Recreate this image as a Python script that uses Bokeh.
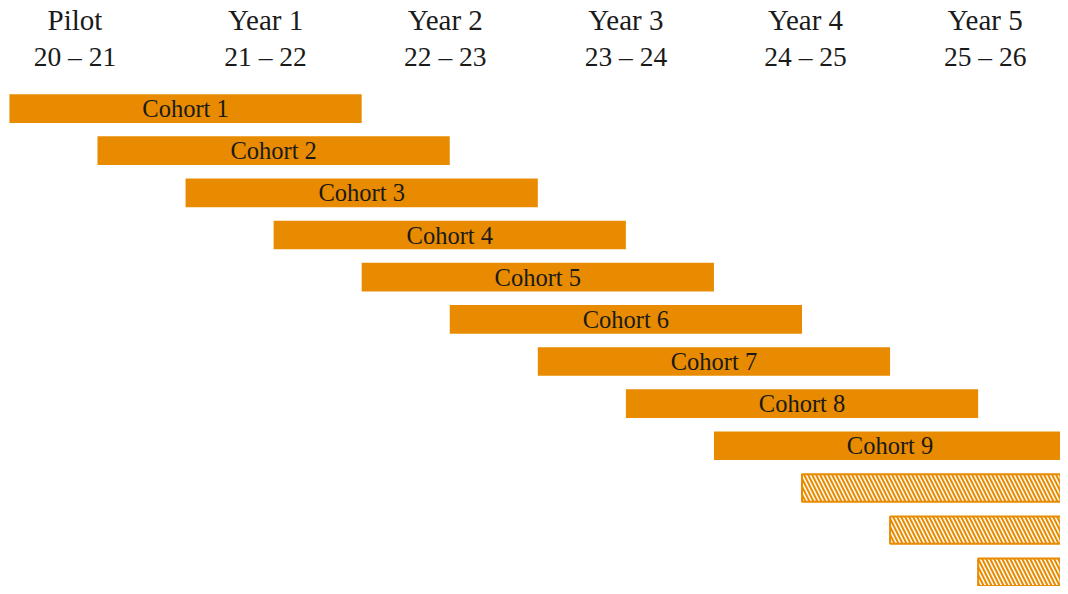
from bokeh.plotting import figure
from bokeh.models import ColumnDataSource, Range1d
from bokeh.core.properties import value
from bokeh.embed import file_html
from bokeh.resources import INLINE

# ---- data ----
cohorts = ["Cohort 1", "Cohort 2", "Cohort 3", "Cohort 4", "Cohort 5", "Cohort 6",
           "Cohort 7", "Cohort 8", "Cohort 9", "", "", ""]
start_years = [0.0, 0.5, 1.0, 1.5, 2.0, 2.5, 3.0, 3.5, 4.0, 4.5, 5.0, 5.5]
duration_years = [2, 2, 2, 2, 2, 2, 2, 2, 2, 2, 2, 2]
planned = [False] * 9 + [True] * 3
period_names = ["Pilot", "Year 1", "Year 2", "Year 3", "Year 4", "Year 5"]
period_spans = ["20 \u2013 21", "21 \u2013 22", "22 \u2013 23", "23 \u2013 24", "24 \u2013 25", "25 \u2013 26"]

ORANGE = "#E98B00"
FONT = "Liberation Serif"

p = figure(width=1060, height=586, output_backend="svg", toolbar_location=None,
           x_range=Range1d(-0.0507, 5.9676), y_range=Range1d(11.338, -2.563),
           min_border=0, outline_line_color=None)
p.axis.visible = False
p.grid.visible = False
p.background_fill_color = "white"
p.border_fill_color = "white"

rows = list(range(len(cohorts)))
lefts = start_years
rights = [s + d for s, d in zip(start_years, duration_years)]
mids = [s + d / 2 for s, d in zip(start_years, duration_years)]

solid = [i for i in rows if not planned[i]]
hatch = [i for i in rows if planned[i]]

src_solid = ColumnDataSource(dict(
    y=[rows[i] for i in solid], left=[lefts[i] for i in solid],
    right=[rights[i] for i in solid], mid=[mids[i] for i in solid],
    label=[cohorts[i] for i in solid]))
src_hatch = ColumnDataSource(dict(
    y=[rows[i] for i in hatch], left=[lefts[i] for i in hatch],
    right=[rights[i] for i in hatch]))

p.hbar(y="y", left="left", right="right", height=0.68, source=src_solid,
       fill_color=ORANGE, line_color=None)
p.hbar(y="y", left="left", right="right", height=0.65, source=src_hatch,
       fill_color="#FFFBF2", line_color=ORANGE, line_width=2,
       hatch_pattern="left_diagonal_line", hatch_color=ORANGE,
       hatch_scale=8, hatch_weight=2)

p.text(x="mid", y="y", text="label", source=src_solid,
       text_font=value(FONT), text_font_size="24.5px", text_color="#1a1a1a",
       text_align="center", text_baseline="middle")

# header
hx = [k + 0.5 for k in range(len(period_names))]
hoff = [-22.5, -8, -4.5, 0, 3.5, 7]
hsrc = ColumnDataSource(dict(x=hx, name=period_names, span=period_spans, off=hoff,
                             y1=[-2.107] * len(hx), y2=[-1.241] * len(hx)))
p.text(x="x", y="y1", text="name", x_offset="off", source=hsrc,
       text_font=value(FONT), text_font_size="29px", text_color="#1a1a1a",
       text_align="center", text_baseline="middle")
p.text(x="x", y="y2", text="span", x_offset="off", source=hsrc,
       text_font=value(FONT), text_font_size="27.5px", text_color="#1a1a1a",
       text_align="center", text_baseline="middle")

open("out.html", "w").write(file_html(p, INLINE))
